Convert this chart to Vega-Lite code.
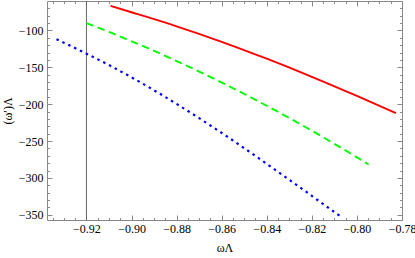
{
  "$schema": "https://vega.github.io/schema/vega-lite/v6.json",
  "width": 355,
  "height": 219,
  "autosize": {"type": "none"},
  "padding": {"left": 47, "top": 1, "right": 13, "bottom": 38},
  "background": "white",
  "config": {
    "view": {"stroke": null},
    "axis": {
      "labelFont": "Liberation Serif",
      "titleFont": "Liberation Serif",
      "labelFontSize": 12,
      "titleFontSize": 12,
      "labelColor": "#000",
      "titleColor": "#000",
      "titleFontWeight": "normal",
      "domainColor": "#888",
      "tickColor": "#888",
      "grid": false
    }
  },
  "datasets": {
    "curves": [
      {"x": -0.9093, "y": -66.7, "s": "red"},
      {"x": -0.9, "y": -75.3, "s": "red"},
      {"x": -0.88, "y": -94.3, "s": "red"},
      {"x": -0.86, "y": -115.3, "s": "red"},
      {"x": -0.84, "y": -138.3, "s": "red"},
      {"x": -0.82, "y": -162.8, "s": "red"},
      {"x": -0.8, "y": -188.8, "s": "red"},
      {"x": -0.7827, "y": -212.2, "s": "red"},
      {"x": -0.92, "y": -90, "s": "green"},
      {"x": -0.91, "y": -102, "s": "green"},
      {"x": -0.9, "y": -114.6, "s": "green"},
      {"x": -0.89, "y": -127.7, "s": "green"},
      {"x": -0.88, "y": -141.4, "s": "green"},
      {"x": -0.87, "y": -155.7, "s": "green"},
      {"x": -0.86, "y": -170.6, "s": "green"},
      {"x": -0.85, "y": -186.1, "s": "green"},
      {"x": -0.84, "y": -202.1, "s": "green"},
      {"x": -0.83, "y": -218.7, "s": "green"},
      {"x": -0.82, "y": -235.9, "s": "green"},
      {"x": -0.81, "y": -253.7, "s": "green"},
      {"x": -0.8, "y": -272, "s": "green"},
      {"x": -0.7948, "y": -281.7, "s": "green"},
      {"x": -0.9333, "y": -111.9, "s": "blue"},
      {"x": -0.93, "y": -116.6, "s": "blue"},
      {"x": -0.92, "y": -131.4, "s": "blue"},
      {"x": -0.91, "y": -146.9, "s": "blue"},
      {"x": -0.9, "y": -163.5, "s": "blue"},
      {"x": -0.89, "y": -181.1, "s": "blue"},
      {"x": -0.88, "y": -199.6, "s": "blue"},
      {"x": -0.87, "y": -218.9, "s": "blue"},
      {"x": -0.86, "y": -238.9, "s": "blue"},
      {"x": -0.85, "y": -259.6, "s": "blue"},
      {"x": -0.84, "y": -280.9, "s": "blue"},
      {"x": -0.83, "y": -302.5, "s": "blue"},
      {"x": -0.82, "y": -324.3, "s": "blue"},
      {"x": -0.81, "y": -346.2, "s": "blue"},
      {"x": -0.8074, "y": -351.8, "s": "blue"}
    ],
    "vline": [{"x": -0.92}]
  },
  "resolve": {"axis": {"x": "independent", "y": "independent"}},
  "layer": [
    {
      "data": {"name": "vline"},
      "mark": {"type": "rule", "color": "#666", "strokeWidth": 1},
      "encoding": {
        "x": {"field": "x", "type": "quantitative", "axis": null,
              "scale": {"domain": [-0.9375, -0.78], "nice": false, "zero": false}}
      }
    },
    {
      "data": {"name": "curves"},
      "transform": [{"filter": "datum.s == 'red'"}],
      "mark": {"type": "line", "color": "#ff0000", "strokeWidth": 1.9, "interpolate": "monotone", "clip": true},
      "encoding": {
        "x": {
          "field": "x", "type": "quantitative",
          "scale": {"domain": [-0.9375, -0.78], "nice": false, "zero": false},
          "axis": {
            "orient": "bottom",
            "title": "ωΛ",
            "titlePadding": 6,
            "values": [-0.935, -0.93, -0.925, -0.92, -0.915, -0.91, -0.905, -0.9, -0.895, -0.89, -0.885, -0.88, -0.875, -0.87, -0.865, -0.86, -0.855, -0.85, -0.845, -0.84, -0.835, -0.83, -0.825, -0.82, -0.815, -0.81, -0.805, -0.8, -0.795, -0.79, -0.785, -0.78],
            "labelExpr": "abs(datum.value*50-round(datum.value*50))<0.001 ? format(datum.value, '.2f') : ''",
            "tickSize": {"condition": {"test": "abs(datum.value*50-round(datum.value*50))<0.001", "value": -5}, "value": -2.5},
            "labelPadding": 8,
            "labelFlush": false,
            "labelOverlap": false
          }
        },
        "y": {
          "field": "y", "type": "quantitative",
          "scale": {"domain": [-357, -60], "nice": false, "zero": false},
          "axis": {
            "orient": "left",
            "title": "(ω′)Λ",
            "titlePadding": 4,
            "values": [-350, -340, -330, -320, -310, -300, -290, -280, -270, -260, -250, -240, -230, -220, -210, -200, -190, -180, -170, -160, -150, -140, -130, -120, -110, -100, -90, -80, -70],
            "labelExpr": "datum.value % 50 == 0 ? format(datum.value, 'd') : ''",
            "tickSize": {"condition": {"test": "datum.value % 50 == 0", "value": -5}, "value": -2.5},
            "labelPadding": 9,
            "labelFlush": false,
            "labelOverlap": false
          }
        }
      }
    },
    {
      "data": {"name": "curves"},
      "transform": [{"filter": "datum.s == 'green'"}],
      "mark": {"type": "line", "color": "#00ff00", "strokeWidth": 1.9, "strokeDash": [7.5, 4.5], "interpolate": "monotone", "clip": true},
      "encoding": {
        "x": {
          "field": "x", "type": "quantitative",
          "scale": {"domain": [-0.9375, -0.78], "nice": false, "zero": false},
          "axis": {
            "orient": "top",
            "title": null,
            "labels": false,
            "values": [-0.935, -0.93, -0.925, -0.92, -0.915, -0.91, -0.905, -0.9, -0.895, -0.89, -0.885, -0.88, -0.875, -0.87, -0.865, -0.86, -0.855, -0.85, -0.845, -0.84, -0.835, -0.83, -0.825, -0.82, -0.815, -0.81, -0.805, -0.8, -0.795, -0.79, -0.785, -0.78],
            "tickSize": {"condition": {"test": "abs(datum.value*50-round(datum.value*50))<0.001", "value": -5}, "value": -2.5}
          }
        },
        "y": {
          "field": "y", "type": "quantitative",
          "scale": {"domain": [-357, -60], "nice": false, "zero": false},
          "axis": {
            "orient": "right",
            "title": null,
            "labels": false,
            "values": [-350, -340, -330, -320, -310, -300, -290, -280, -270, -260, -250, -240, -230, -220, -210, -200, -190, -180, -170, -160, -150, -140, -130, -120, -110, -100, -90, -80, -70],
            "tickSize": {"condition": {"test": "datum.value % 50 == 0", "value": -5}, "value": -2.5}
          }
        }
      }
    },
    {
      "data": {"name": "curves"},
      "transform": [{"filter": "datum.s == 'blue'"}],
      "mark": {"type": "line", "color": "#0000ff", "strokeWidth": 2.2, "strokeDash": [2.5, 4], "interpolate": "monotone", "clip": true},
      "encoding": {
        "x": {"field": "x", "type": "quantitative", "axis": null,
              "scale": {"domain": [-0.9375, -0.78], "nice": false, "zero": false}},
        "y": {"field": "y", "type": "quantitative", "axis": null,
              "scale": {"domain": [-357, -60], "nice": false, "zero": false}}
      }
    }
  ]
}
